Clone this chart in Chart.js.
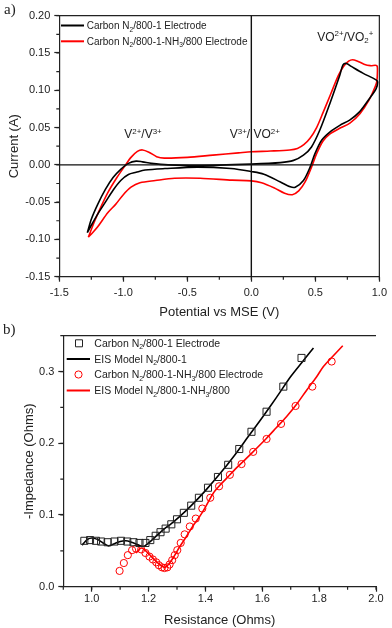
<!DOCTYPE html>
<html>
<head>
<meta charset="utf-8">
<script src="https://cdn.jsdelivr.net/npm/chart.js@4.4.1/dist/chart.umd.min.js"></script>
<style>
  html, body { margin: 0; padding: 0; background: #fff; }
  body { width: 392px; height: 628px; position: relative; overflow: hidden; }
  .panel { position: absolute; left: 0; }
  #wrapA { top: 0; width: 392px; height: 320px; }
  #wrapB { top: 320px; width: 392px; height: 308px; }
</style>
</head>
<body>
<div class="panel" id="wrapA"><canvas id="cvChart" width="392" height="320"></canvas></div>
<div class="panel" id="wrapB"><canvas id="eisChart" width="392" height="308"></canvas></div>
<script>
// panel a - cyclic voltammograms (closed loops)
var cvN2X = [-1.281, -1.25, -1.20, -1.14, -1.08, -1.02, -0.96, -0.90, -0.85, -0.78, -0.65, -0.42, 0.0, 0.227, 0.33, 0.407, 0.47, 0.536, 0.613, 0.691, 0.716, 0.742, 0.781, 0.871, 0.974, 0.987,
             0.974, 0.923, 0.845, 0.768, 0.691, 0.613, 0.549, 0.497, 0.459, 0.407, 0.343, 0.304, 0.227, 0.098, 0.0, -0.16, -0.42, -0.675, -0.83, -0.90, -0.96, -1.02, -1.08, -1.14, -1.20, -1.24, -1.281];
var cvN2Y = [-0.091, -0.073, -0.053, -0.033, -0.017, -0.006, 0.002, 0.005, 0.004, 0.002, 0.000, -0.001, 0.001, 0.003, 0.006, 0.013, 0.024, 0.047, 0.082, 0.120, 0.134, 0.136, 0.132, 0.123, 0.114, 0.111,
             0.102, 0.089, 0.071, 0.060, 0.053, 0.044, 0.033, 0.015, -0.003, -0.021, -0.030, -0.0295, -0.023, -0.0125, -0.009, -0.005, -0.003, -0.005, -0.007, -0.010, -0.013, -0.021, -0.034, -0.050, -0.066, -0.078, -0.091];

var cvNH3X = [-1.273, -1.23, -1.19, -1.12, -1.05, -0.99, -0.94, -0.89, -0.85, -0.80, -0.74, -0.68, -0.50, -0.30, -0.10, 0.0, 0.15, 0.30, 0.36, 0.41, 0.46, 0.51, 0.56, 0.62, 0.68, 0.72, 0.76, 0.79, 0.83, 0.88, 0.93, 0.98, 0.985, 0.98,
              0.97, 0.92, 0.85, 0.77, 0.69, 0.61, 0.56, 0.51, 0.47, 0.42, 0.37, 0.32, 0.26, 0.18, 0.08, 0.0, -0.15, -0.40, -0.60, -0.75, -0.87, -0.94, -1.00, -1.06, -1.12, -1.20, -1.24, -1.273];
var cvNH3Y = [-0.097, -0.078, -0.062, -0.037, -0.017, -0.002, 0.010, 0.018, 0.020, 0.017, 0.011, 0.009, 0.010, 0.013, 0.016, 0.0175, 0.0185, 0.020, 0.022, 0.027, 0.036, 0.050, 0.070, 0.095, 0.120, 0.132, 0.139, 0.141, 0.139, 0.135, 0.133, 0.133, 0.125, 0.112,
              0.106, 0.087, 0.069, 0.056, 0.049, 0.041, 0.032, 0.015, -0.003, -0.023, -0.035, -0.040, -0.038, -0.031, -0.024, -0.0215, -0.0205, -0.018, -0.018, -0.021, -0.024, -0.030, -0.040, -0.053, -0.064, -0.083, -0.091, -0.097];

var cvXTicks = [-1.5, -1.0, -0.5, 0.0, 0.5, 1.0];
var cvYTicks = [-0.15, -0.10, -0.05, 0.00, 0.05, 0.10, 0.15, 0.20];

// panel b - impedance data and model fits
var eisN2X = [0.974, 0.994, 1.015, 1.033, 1.056, 1.08, 1.103, 1.125, 1.147, 1.168, 1.189, 1.206, 1.225, 1.242, 1.26, 1.28, 1.30, 1.324, 1.35, 1.377, 1.409, 1.444, 1.48, 1.519, 1.562, 1.615, 1.674, 1.738];
var eisN2Y = [0.064, 0.065, 0.064, 0.063, 0.062, 0.063, 0.064, 0.063, 0.062, 0.061, 0.061, 0.065, 0.071, 0.076, 0.081, 0.087, 0.094, 0.103, 0.113, 0.124, 0.138, 0.153, 0.170, 0.192, 0.216, 0.244, 0.279, 0.319];
var fitN2X = [0.966, 0.985, 1.0, 1.02, 1.04, 1.058, 1.08, 1.10, 1.12, 1.14, 1.16, 1.18, 1.20, 1.22, 1.25, 1.28, 1.31, 1.35, 1.40, 1.45, 1.50, 1.55, 1.60, 1.65, 1.70, 1.74, 1.78];
var fitN2Y = [0.058, 0.066, 0.068, 0.066, 0.061, 0.057, 0.060, 0.063, 0.064, 0.062, 0.059, 0.056, 0.061, 0.068, 0.079, 0.088, 0.098, 0.113, 0.134, 0.157, 0.182, 0.209, 0.236, 0.264, 0.293, 0.313, 0.333];

var eisNH3X = [1.098, 1.113, 1.127, 1.142, 1.156, 1.174, 1.189, 1.203, 1.215, 1.227, 1.236, 1.247, 1.256, 1.266, 1.274, 1.283, 1.292, 1.301, 1.313, 1.327, 1.345, 1.366, 1.389, 1.417, 1.448, 1.486, 1.527, 1.568, 1.615, 1.666, 1.717, 1.776, 1.844];
var eisNH3Y = [0.022, 0.033, 0.044, 0.051, 0.053, 0.052, 0.047, 0.042, 0.038, 0.034, 0.030, 0.027, 0.026, 0.027, 0.031, 0.037, 0.044, 0.051, 0.061, 0.073, 0.084, 0.095, 0.109, 0.124, 0.140, 0.156, 0.171, 0.188, 0.206, 0.227, 0.252, 0.279, 0.314];
var fitNH3X = [1.155, 1.174, 1.19, 1.21, 1.23, 1.245, 1.259, 1.272, 1.286, 1.31, 1.333, 1.36, 1.38, 1.40, 1.427, 1.45, 1.474, 1.51, 1.544, 1.58, 1.615, 1.65, 1.685, 1.72, 1.756, 1.79, 1.815, 1.85, 1.883];
var fitNH3Y = [0.047, 0.054, 0.050, 0.042, 0.034, 0.029, 0.027, 0.032, 0.040, 0.056, 0.070, 0.087, 0.098, 0.111, 0.130, 0.141, 0.151, 0.166, 0.179, 0.193, 0.207, 0.222, 0.237, 0.254, 0.274, 0.292, 0.307, 0.322, 0.336];

var eisXTicks = [1.0, 1.2, 1.4, 1.6, 1.8, 2.0];
var eisYTicks = [0.0, 0.1, 0.2, 0.3];

var FONT = '"Liberation Sans", Arial, sans-serif';
var INK = '#222';
Chart.defaults.font.family = FONT;
Chart.defaults.color = INK;

function pts(xs, ys) {
    return xs.map(function(x, i) { return {x: x, y: ys[i]}; });
}

// text with sub/superscripts: parts = [[text, 0 | 1 (sup) | -1 (sub)], ...]
function richText(ctx, parts, x, y, size) {
    parts.forEach(function(p) {
        var s = p[1] ? size * 0.66 : size;
        var dy = p[1] === 1 ? -size * 0.4 : (p[1] === -1 ? size * 0.22 : 0);
        ctx.font = s + 'px ' + FONT;
        ctx.fillText(p[0], x, y + dy);
        x += ctx.measureText(p[0]).width;
    });
}

// frame, minor ticks, zero lines, legend and labels
var decor = {
    id: 'decor',
    afterDraw: function(chart, args, o) {
        var ctx = chart.ctx, a = chart.chartArea;
        var sx = chart.scales.x, sy = chart.scales.y;
        ctx.save();
        ctx.strokeStyle = INK;
        ctx.lineWidth = 1.2;
        ctx.beginPath();
        if (o.box) {
            ctx.moveTo(a.left, a.top); ctx.lineTo(a.right, a.top); ctx.lineTo(a.right, a.bottom);
        } else {
            ctx.moveTo(a.left, a.top); ctx.lineTo(a.right, a.top);
        }
        // minor ticks, outward
        var v;
        for (v = sx.min; v <= sx.max + 1e-9; v += o.xMinor) {
            var px = sx.getPixelForValue(v);
            ctx.moveTo(px, a.bottom); ctx.lineTo(px, a.bottom + 3);
        }
        for (v = sy.min; v <= sy.max + 1e-9; v += o.yMinor) {
            var py = sy.getPixelForValue(v);
            ctx.moveTo(a.left, py); ctx.lineTo(a.left - 3, py);
        }
        ctx.stroke();
        if (o.zeroLines) {
            ctx.strokeStyle = '#111';
            ctx.lineWidth = 1.4;
            ctx.beginPath();
            var x0 = sx.getPixelForValue(0), y0 = sy.getPixelForValue(0);
            ctx.moveTo(x0, a.top); ctx.lineTo(x0, a.bottom);
            ctx.moveTo(a.left, y0); ctx.lineTo(a.right, y0);
            ctx.stroke();
        }
        // legend
        ctx.fillStyle = INK;
        ctx.textBaseline = 'alphabetic';
        o.legend.forEach(function(e) {
            ctx.strokeStyle = e.color;
            ctx.lineWidth = e.type === 'line' ? 2 : 1;
            ctx.beginPath();
            if (e.type === 'line') {
                ctx.moveTo(e.x0, e.y); ctx.lineTo(e.x1, e.y);
            } else if (e.type === 'rect') {
                ctx.rect(e.x0 - 3.5, e.y - 3.5, 7, 7);
            } else {
                ctx.arc(e.x0, e.y, 3.6, 0, Math.PI * 2);
            }
            ctx.stroke();
            ctx.fillStyle = INK;
            richText(ctx, e.text, e.tx, e.y + 3.8, o.legendSize);
        });
        // peak labels placed in data units
        o.labels.forEach(function(l) {
            richText(ctx, l.text, sx.getPixelForValue(l.x), sy.getPixelForValue(l.y), 12);
        });
        // panel letter
        ctx.font = '15px "Liberation Serif", "Times New Roman", serif';
        ctx.fillText(o.letter, o.letterX, o.letterY);
        ctx.restore();
    }
};

function axisX(min, max, ticks, digits, title, h, pad) {
    return {
        type: 'linear', min: min, max: max,
        afterBuildTicks: function(s) { s.ticks = ticks.map(function(v) { return {value: v}; }); },
        afterFit: function(s) { s.height = h; },
        ticks: { callback: function(v) { return v.toFixed(digits); }, font: {size: 11}, padding: pad, maxRotation: 0, autoSkip: false, color: INK },
        grid: { drawOnChartArea: false, tickLength: 5, tickColor: INK, tickWidth: 1.2 },
        border: { color: INK, width: 1.2 },
        title: { display: true, text: title, font: {size: 13}, color: INK, padding: {top: 0, bottom: 0} }
    };
}
function axisY(min, max, ticks, digits, title, w, tpad) {
    return {
        type: 'linear', min: min, max: max,
        afterBuildTicks: function(s) { s.ticks = ticks.map(function(v) { return {value: v}; }); },
        afterFit: function(s) { s.width = w; },
        ticks: { callback: function(v) { return v.toFixed(digits); }, font: {size: 11}, padding: 4, autoSkip: false, color: INK },
        grid: { drawOnChartArea: false, tickLength: 5, tickColor: INK, tickWidth: 1.2 },
        border: { color: INK, width: 1.2 },
        title: { display: true, text: title, font: {size: 13}, color: INK, padding: {top: tpad, bottom: 0} }
    };
}

new Chart(document.getElementById('cvChart'), {
    type: 'scatter',
    data: {
        datasets: [
            { label: 'Carbon N2/800-1 Electrode', data: pts(cvN2X, cvN2Y), showLine: true, borderColor: '#000', borderWidth: 1.6, pointRadius: 0, tension: 0.3 },
            { label: 'Carbon N2/800-1-NH3/800 Electrode', data: pts(cvNH3X, cvNH3Y), showLine: true, borderColor: '#ff0000', borderWidth: 1.6, pointRadius: 0, tension: 0.3 }
        ]
    },
    options: {
        responsive: false, animation: false,
        layout: { padding: {left: 0, top: 15.7, right: 9.3, bottom: 0} },
        scales: {
            x: axisX(-1.5, 1.0, cvXTicks, 1, 'Potential vs MSE (V)', 43.3, 5),
            y: axisY(-0.15, 0.20, cvYTicks, 2, 'Current (A)', 59.3, 7)
        },
        plugins: {
            legend: { display: false }, tooltip: { enabled: false },
            decor: {
                box: true, zeroLines: true, xMinor: 0.25, yMinor: 0.025, legendSize: 10,
                letter: 'a)', letterX: 4, letterY: 14,
                legend: [
                    { type: 'line', color: '#000', x0: 61, x1: 84, y: 25.5, tx: 86.7, text: [['Carbon N', 0], ['2', -1], ['/800-1 Electrode', 0]] },
                    { type: 'line', color: '#ff0000', x0: 61, x1: 84, y: 41.3, tx: 86.7, text: [['Carbon N', 0], ['2', -1], ['/800-1-NH', 0], ['3', -1], ['/800 Electrode', 0]] }
                ],
                labels: [
                    { x: -0.992, y: 0.0355, text: [['V', 0], ['2+', 1], ['/V', 0], ['3+', 1]] },
                    { x: -0.168, y: 0.0355, text: [['V', 0], ['3+', 1], ['/ VO', 0], ['2+', 1]] },
                    { x: 0.515, y: 0.1664, text: [['VO', 0], ['2+', 1], ['/VO', 0], ['2', -1], ['+', 1]] }
                ]
            }
        }
    },
    plugins: [decor]
});

new Chart(document.getElementById('eisChart'), {
    type: 'scatter',
    data: {
        datasets: [
            { label: 'Carbon N2/800-1 Electrode', data: pts(eisN2X, eisN2Y), pointStyle: 'rect', pointRadius: 5, borderColor: '#222', backgroundColor: 'rgba(0,0,0,0)', borderWidth: 1 },
            { label: 'EIS Model N2/800-1', data: pts(fitN2X, fitN2Y), showLine: true, borderColor: '#000', borderWidth: 1.6, pointRadius: 0, tension: 0.3 },
            { label: 'Carbon N2/800-1-NH3/800 Electrode', data: pts(eisNH3X, eisNH3Y), pointStyle: 'circle', pointRadius: 3.6, borderColor: '#ff0000', backgroundColor: 'rgba(0,0,0,0)', borderWidth: 1 },
            { label: 'EIS Model N2/800-1-NH3/800', data: pts(fitNH3X, fitNH3Y), showLine: true, borderColor: '#ff0000', borderWidth: 1.6, pointRadius: 0, tension: 0.3 }
        ]
    },
    options: {
        responsive: false, animation: false,
        layout: { padding: {left: 0, top: 15.7, right: 16, bottom: 0} },
        scales: {
            x: axisX(0.9, 2.0, eisXTicks, 1, 'Resistance (Ohms)', 41.3, 1),
            y: axisY(0, 0.35, eisYTicks, 1, '-Impedance (Ohms)', 63.3, 22)
        },
        plugins: {
            legend: { display: false }, tooltip: { enabled: false },
            decor: {
                box: false, zeroLines: false, xMinor: 0.1, yMinor: 0.05, legendSize: 10.5,
                letter: 'b)', letterX: 3, letterY: 14,
                legend: [
                    { type: 'rect', color: '#222', x0: 79, y: 23.3, tx: 94.3, text: [['Carbon N', 0], ['2', -1], ['/800-1 Electrode', 0]] },
                    { type: 'line', color: '#000', x0: 66.7, x1: 90, y: 39, tx: 94.3, text: [['EIS Model N', 0], ['2', -1], ['/800-1', 0]] },
                    { type: 'circle', color: '#ff0000', x0: 78.5, y: 54.5, tx: 94.3, text: [['Carbon N', 0], ['2', -1], ['/800-1-NH', 0], ['3', -1], ['/800 Electrode', 0]] },
                    { type: 'line', color: '#ff0000', x0: 66.7, x1: 90, y: 70.5, tx: 94.3, text: [['EIS Model N', 0], ['2', -1], ['/800-1-NH', 0], ['3', -1], ['/800', 0]] }
                ],
                labels: []
            }
        }
    },
    plugins: [decor]
});
</script>
</body>
</html>
